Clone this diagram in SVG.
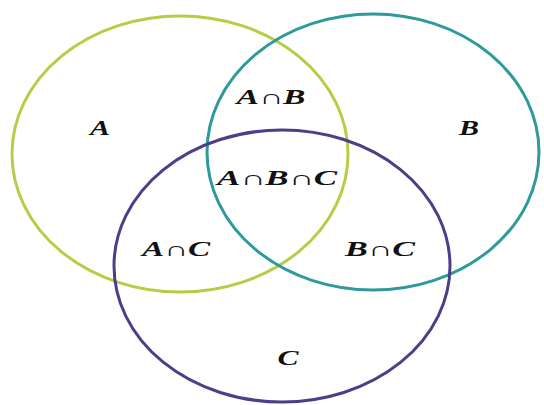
<svg xmlns="http://www.w3.org/2000/svg" width="544" height="405" viewBox="0 0 544 405">
<style>
.set{fill:none;stroke-width:3}
.lbl{font-family:"Liberation Serif","DejaVu Serif",serif;font-weight:bold;font-style:italic;font-size:20px;fill:#111;text-anchor:middle}
</style>
<rect width="544" height="405" fill="#fff"/>
<g id="setA"><ellipse class="set" cx="180" cy="154" rx="168" ry="138" stroke="#b7cd45"/></g>
<g id="setB"><ellipse class="set" cx="373" cy="152" rx="166" ry="138" stroke="#2e9a9c"/></g>
<g id="setC"><ellipse class="set" cx="282" cy="266" rx="168" ry="136" stroke="#4b3f88"/></g>
<g id="labels">
<text class="lbl" x="100" y="135" textLength="20" lengthAdjust="spacingAndGlyphs">A</text>
<text class="lbl" x="469" y="135" textLength="20" lengthAdjust="spacingAndGlyphs">B</text>
<text class="lbl" x="288" y="365" textLength="21" lengthAdjust="spacingAndGlyphs">C</text>
<text class="lbl" x="271" y="104" textLength="69" lengthAdjust="spacingAndGlyphs">A∩B</text>
<text class="lbl" x="277" y="185" textLength="120" lengthAdjust="spacingAndGlyphs">A∩B∩C</text>
<text class="lbl" x="176" y="256" textLength="68" lengthAdjust="spacingAndGlyphs">A∩C</text>
<text class="lbl" x="380" y="256" textLength="70" lengthAdjust="spacingAndGlyphs">B∩C</text>
</g>
</svg>
